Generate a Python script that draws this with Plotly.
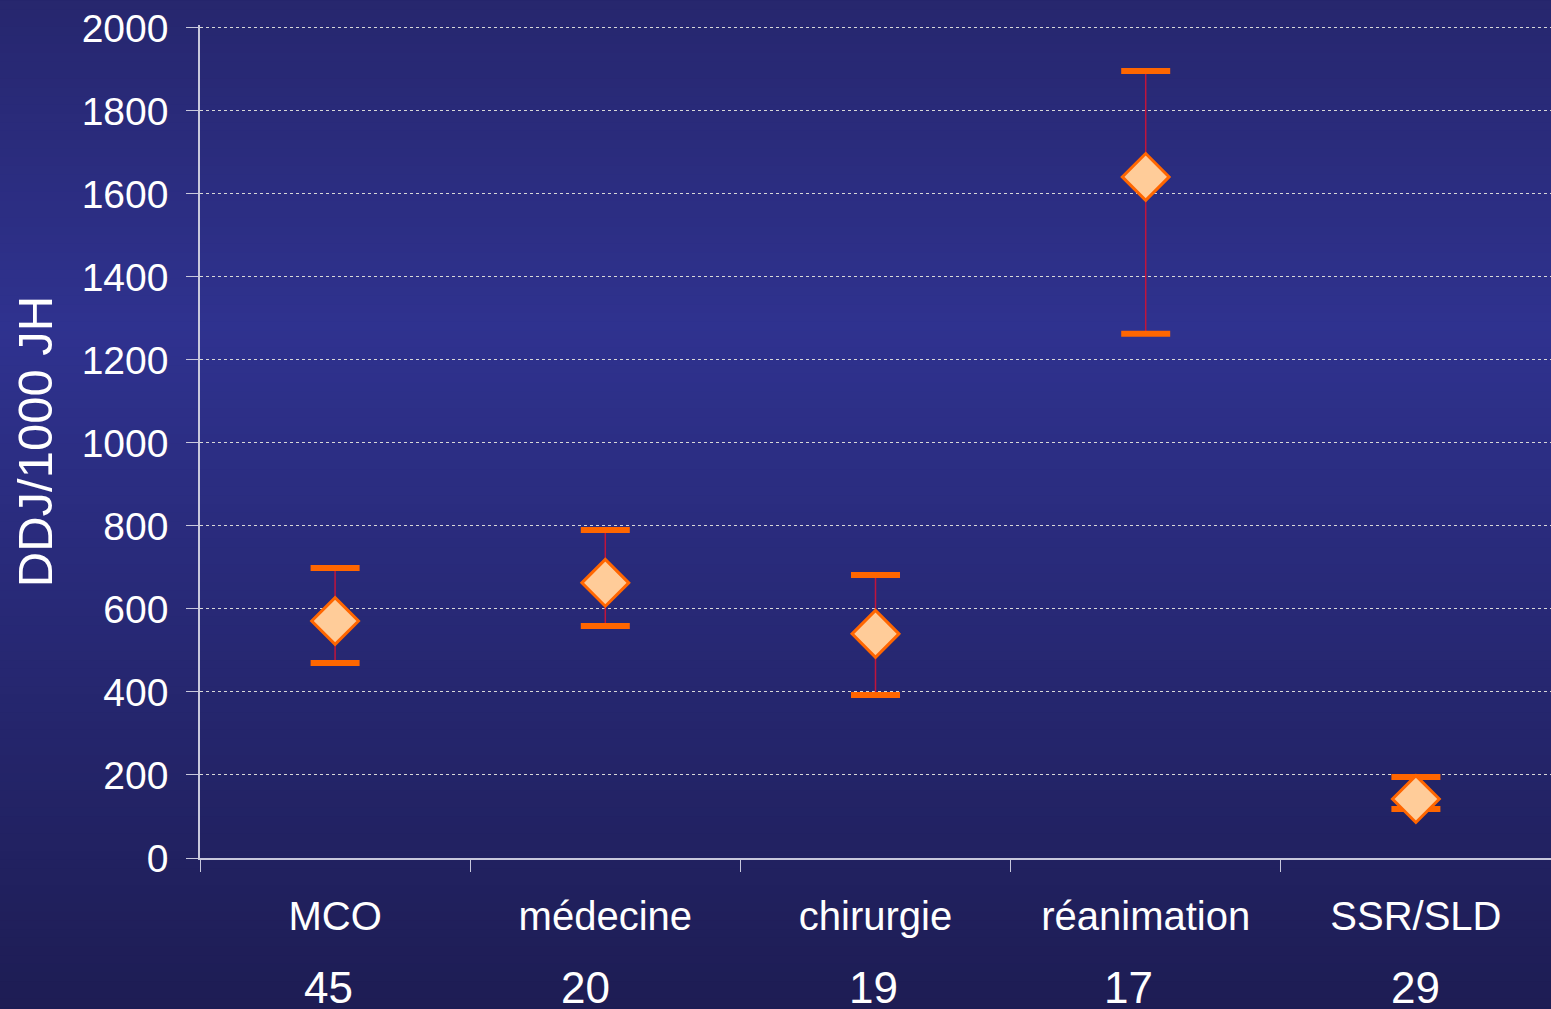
import plotly.graph_objects as go

categories = ["MCO", "médecine", "chirurgie", "réanimation", "SSR/SLD"]
counts = ["45", "20", "19", "17", "29"]
means = [571, 663, 540, 1641, 142]
upper = [699, 790, 682, 1896, 195]
lower = [470, 559, 393, 1263, 118]
count_shift = [-7, -20, -2, -17, 0]
y_ticks = [0, 200, 400, 600, 800, 1000, 1200, 1400, 1600, 1800, 2000]

W, H = 1551, 1009
fig = go.Figure()

# background gradient strips (styling)
stops = [(0.0, (38, 38, 108)), (0.33, (47, 50, 143)), (1.0, (29, 28, 82))]
def col(t):
    for (t0, c0), (t1, c1) in zip(stops[:-1], stops[1:]):
        if t0 <= t <= t1:
            f = (t - t0) / (t1 - t0)
            return "rgb(%d,%d,%d)" % tuple(round(a + (b - a) * f) for a, b in zip(c0, c1))
    return "rgb(%d,%d,%d)" % stops[-1][1]

N = 120
shapes = []
for i in range(N):
    y0 = i / N
    y1 = (i + 1) / N + 0.002
    t = 1 - (i + 0.5) / N  # from top
    shapes.append(dict(type="rect", xref="paper", yref="paper",
                       x0=-0.2, x1=1.05, y0=-0.2 + y0 * 1.25, y1=-0.2 + y1 * 1.25,
                       fillcolor=col(t), line=dict(width=0), layer="below"))

plus = [u - m for u, m in zip(upper, means)]
minus = [m - l for m, l in zip(means, lower)]

fig.add_trace(go.Scatter(
    x=categories, y=means, mode="markers",
    marker=dict(size=1, color="rgba(0,0,0,0)"),
    error_y=dict(type="data", array=plus, arrayminus=minus, color="#c0143c",
                 thickness=1.5, width=0),
    hoverinfo="skip", showlegend=False))

fig.add_trace(go.Scatter(
    x=categories + categories, y=upper + lower, mode="markers",
    marker=dict(symbol="line-ew", size=35, color="#ff6600",
                line=dict(color="#ff6600", width=6)),
    showlegend=False))

fig.add_trace(go.Scatter(
    x=categories, y=means, mode="markers",
    marker=dict(symbol="diamond", size=36, color="#ffcc99",
                line=dict(color="#ff6600", width=3)),
    showlegend=False))

annotations = []
for c, n, s in zip(categories, counts, count_shift):
    annotations.append(dict(x=c, y=-0.155, xref="x", yref="paper", text=n,
                            showarrow=False, xshift=s, yanchor="middle",
                            font=dict(size=44, color="white",
                                      family="Liberation Sans, Arial")))

fig.update_layout(
    width=W, height=H,
    margin=dict(l=200, r=0, t=25, b=151),
    paper_bgcolor="#252566", plot_bgcolor="rgba(0,0,0,0)",
    shapes=shapes, annotations=annotations,
    font=dict(family="Liberation Sans, Arial", color="white", size=38),
    xaxis=dict(type="category", tickson="boundaries", ticks="outside",
               ticklen=12, tickcolor="#c8c8dc", showline=True,
               linecolor="#c8c8dc", linewidth=1.5, showgrid=False,
               tickfont=dict(size=40, color="white"), ticklabelstandoff=22,
               range=[-0.5, 4.5]),
    yaxis=dict(range=[0, 2007], tickvals=y_ticks, ticks="outside",
               ticklen=12, tickcolor="#c8c8dc", showline=True,
               linecolor="#c8c8dc", linewidth=1.5,
               showgrid=True, gridcolor="#d8d8d8", griddash="3px,3px",
               gridwidth=1, zeroline=False,
               tickfont=dict(size=39, color="white"), ticklabelstandoff=10,
               title=dict(text="DDJ/1000 JH", standoff=14,
                          font=dict(size=49, color="white"))),
)

fig.write_html("out.html", config={"displayModeBar": False},
               post_script="document.body.style.margin='0';document.body.style.overflow='hidden';")
